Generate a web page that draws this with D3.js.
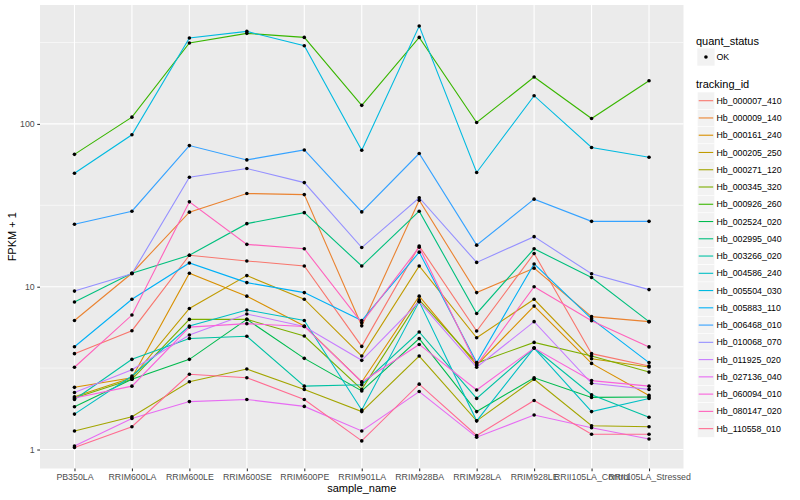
<!DOCTYPE html>
<html>
<head>
<meta charset="utf-8">
<script src="https://cdn.jsdelivr.net/npm/d3@7"></script>
<style>
  body { margin: 0; background: #fff; }
  svg { font-family: "Liberation Sans", Arial, sans-serif; }
</style>
</head>
<body>
<div id="chart"></div>
<script>
var wd = 800, ht = 500;

var samples = ["PB350LA", "RRIM600LA", "RRIM600LE", "RRIM600SE", "RRIM600PE", "RRIM901LA",
  "RRIM928BA", "RRIM928LA", "RRIM928LE", "RRII105LA_Control", "RRII105LA_Stressed"];

var trackingIds = ["Hb_000007_410", "Hb_000009_140", "Hb_000161_240", "Hb_000205_250", "Hb_000271_120",
  "Hb_000345_320", "Hb_000926_260", "Hb_002524_020", "Hb_002995_040", "Hb_003266_020",
  "Hb_004586_240", "Hb_005504_030", "Hb_005883_110", "Hb_006468_010", "Hb_010068_070",
  "Hb_011925_020", "Hb_027136_040", "Hb_060094_010", "Hb_080147_020", "Hb_110558_010"];

var colors = ["#F8766D", "#EA8331", "#D89000", "#C09B00", "#A3A500", "#7CAE00", "#39B600", "#00BB4E",
  "#00BF7D", "#00C1A3", "#00BFC4", "#00BAE0", "#00B0F6", "#35A2FF", "#9590FF", "#C77CFF",
  "#E76BF3", "#FA62DB", "#FF62BC", "#FF6C91"];

// FPKM + 1, one row per tracking id, one value per sample
var fpkm = [
  [3.88, 5.37, 15.6, 14.4, 13.4, 4.3, 17.8, 5.34, 16.0, 3.88, 3.26],
  [6.2, 12.1, 28.7, 37.4, 36.8, 5.75, 34.0, 9.2, 13.0, 6.55, 6.1],
  [2.41, 2.76, 12.1, 8.75, 5.74, 2.6, 8.75, 3.3, 7.6, 3.38, 2.15],
  [2.11, 2.76, 7.35, 11.7, 8.38, 3.75, 13.4, 4.86, 8.37, 3.61, 3.21],
  [1.30, 1.59, 2.61, 3.12, 2.34, 1.71, 3.75, 1.5, 2.7, 1.40, 1.38],
  [2.07, 2.7, 6.3, 6.3, 4.98, 2.34, 8.3, 3.4, 4.55, 3.75, 2.99],
  [65, 110, 314, 360, 340, 130, 340, 102, 194, 108, 184],
  [1.83, 2.7, 3.58, 6.3, 3.63, 2.29, 4.8, 1.71, 2.76, 2.09, 2.1],
  [8.05, 12.1, 15.6, 24.4, 28.5, 13.4, 29.1, 6.85, 17.1, 11.4, 6.1],
  [2.03, 3.58, 4.81, 4.96, 2.45, 2.5, 5.27, 2.06, 4.2, 2.17, 1.58],
  [1.65, 2.83, 5.74, 7.2, 6.2, 1.75, 8.1, 1.5, 4.2, 1.71, 2.06],
  [49.8, 85.7, 337, 370, 302, 68.9, 399, 50.3, 149, 71.6, 62.4],
  [4.28, 8.37, 14.0, 10.6, 9.2, 6.2, 16.3, 3.42, 13.8, 6.35, 3.42],
  [24.2, 29.1, 73.6, 60.1, 69.2, 28.8, 65.8, 18.0, 34.5, 25.2, 25.2],
  [9.4, 12.0, 47, 53.2, 43.6, 17.4, 35.2, 14.1, 20.3, 12.0, 9.6],
  [2.24, 3.09, 5.05, 6.8, 5.7, 3.53, 8.1, 3.2, 6.1, 2.55, 2.34],
  [1.05, 1.55, 1.97, 2.03, 1.84, 1.30, 2.27, 1.19, 1.63, 1.36, 1.16],
  [2.07, 2.45, 5.65, 5.93, 5.7, 2.6, 4.42, 2.32, 4.2, 2.65, 2.45],
  [3.2, 6.7, 33.2, 18.2, 17.1, 6.0, 17.5, 3.3, 10.0, 6.18, 4.27],
  [1.03, 1.38, 2.9, 2.76, 2.03, 1.13, 2.52, 1.22, 2.0, 1.24, 1.24]
];

var yTicks = [1, 10, 100];
var yMinor = [Math.pow(10, 0.5), Math.pow(10, 1.5), Math.pow(10, 2.5)];

var panel = {left: 40, top: 5, right: 683.5, bottom: 468.5};

var series = trackingIds.map(function (id, i) {
  return {id: id, color: colors[i], values: fpkm[i].map(function (v, j) { return {s: samples[j], v: v}; })};
});

var svg = d3.select('#chart')
  .append("svg")
  .attr("width", wd)
  .attr("height", ht);

svg.append("rect").attr("width", wd).attr("height", ht).attr("fill", "#fff");

var x = d3.scalePoint().domain(samples).range([panel.left, panel.right]).padding(0.6);

// log extent expanded by 5% each side, like ggplot
var all = d3.merge(fpkm);
var lo = Math.log10(d3.min(all)), hi = Math.log10(d3.max(all));
var pad = (hi - lo) * 0.05;
var y = d3.scaleLog()
  .domain([Math.pow(10, lo - pad), Math.pow(10, hi + pad)])
  .range([panel.bottom, panel.top]);

svg.append("rect")
  .attr("x", panel.left).attr("y", panel.top)
  .attr("width", panel.right - panel.left).attr("height", panel.bottom - panel.top)
  .attr("fill", "#EBEBEB");

var grid = svg.append("g");
grid.selectAll(".minor").data(yMinor).enter().append("line")
  .attr("x1", panel.left).attr("x2", panel.right)
  .attr("y1", function (d) { return y(d); }).attr("y2", function (d) { return y(d); })
  .attr("stroke", "#fff").attr("stroke-width", 0.55);
grid.selectAll(".major").data(yTicks).enter().append("line")
  .attr("x1", panel.left).attr("x2", panel.right)
  .attr("y1", function (d) { return y(d); }).attr("y2", function (d) { return y(d); })
  .attr("stroke", "#fff").attr("stroke-width", 1.1);
grid.selectAll(".vmajor").data(samples).enter().append("line")
  .attr("x1", function (d) { return x(d); }).attr("x2", function (d) { return x(d); })
  .attr("y1", panel.top).attr("y2", panel.bottom)
  .attr("stroke", "#fff").attr("stroke-width", 1.1);

var line = d3.line()
  .x(function (d) { return x(d.s); })
  .y(function (d) { return y(d.v); });

svg.append("g").selectAll("path")
  .data(series)
  .enter()
  .append("path")
  .attr("d", function (d) { return line(d.values); })
  .attr("fill", "none")
  .attr("stroke", function (d) { return d.color; })
  .attr("stroke-width", 1.1);

svg.append("g").selectAll("circle")
  .data(d3.merge(series.map(function (d) { return d.values; })))
  .enter()
  .append("circle")
  .attr("cx", function (d) { return x(d.s); })
  .attr("cy", function (d) { return y(d.v); })
  .attr("r", 1.8)
  .attr("fill", "black");

// axes
var xAxis = svg.append("g")
  .attr("transform", "translate(0," + panel.bottom + ")")
  .call(d3.axisBottom(x).tickSize(2.75).tickPadding(2.5));
var yAxis = svg.append("g")
  .attr("transform", "translate(" + panel.left + ",0)")
  .call(d3.axisLeft(y).tickValues(yTicks).tickFormat(d3.format("d")).tickSize(2.75).tickPadding(2.5));

[xAxis, yAxis].forEach(function (a) {
  a.select(".domain").remove();
  a.selectAll(".tick line").attr("stroke", "#333333").attr("stroke-width", 1.07);
  a.selectAll(".tick text").attr("fill", "#4D4D4D").style("font-size", "8.8px")
    .style("font-family", "'Liberation Sans', Arial, sans-serif");
});

svg.append("text")
  .attr("x", (panel.left + panel.right) / 2).attr("y", 492)
  .attr("text-anchor", "middle").style("font-size", "11px")
  .text("sample_name");

svg.append("text")
  .attr("transform", "translate(16," + ((panel.top + panel.bottom) / 2) + ") rotate(-90)")
  .attr("text-anchor", "middle").style("font-size", "11px")
  .text("FPKM + 1");

// legends
var lg = svg.append("g");
var keyX = 697.3, keyW = 17.3, textX = 716.5;

lg.append("text").attr("x", 696).attr("y", 44.5).style("font-size", "11px").text("quant_status");
lg.append("rect").attr("x", keyX).attr("y", 48.4).attr("width", keyW).attr("height", 17.3).attr("fill", "#F2F2F2");
lg.append("circle").attr("cx", keyX + keyW / 2).attr("cy", 57).attr("r", 1.8).attr("fill", "black");
lg.append("text").attr("x", textX).attr("y", 60.2).style("font-size", "8.8px").text("OK");

lg.append("text").attr("x", 696).attr("y", 88).style("font-size", "11px").text("tracking_id");

var items = lg.selectAll(".item")
  .data(series)
  .enter()
  .append("g")
  .attr("transform", function (d, i) { return "translate(0," + (100.7 + 17.26 * i) + ")"; });

items.append("rect").attr("x", keyX).attr("y", -8.65).attr("width", keyW).attr("height", 17.3)
  .attr("fill", "#F2F2F2").attr("stroke", "#fff").attr("stroke-width", 0.5);
items.append("line").attr("x1", keyX + 1.4).attr("x2", keyX + keyW - 1.4)
  .attr("y1", 0).attr("y2", 0)
  .attr("stroke", function (d) { return d.color; }).attr("stroke-width", 1.1);
items.append("text").attr("x", textX).attr("y", 3.1).style("font-size", "8.8px")
  .text(function (d) { return d.id; });
</script>
</body>
</html>
